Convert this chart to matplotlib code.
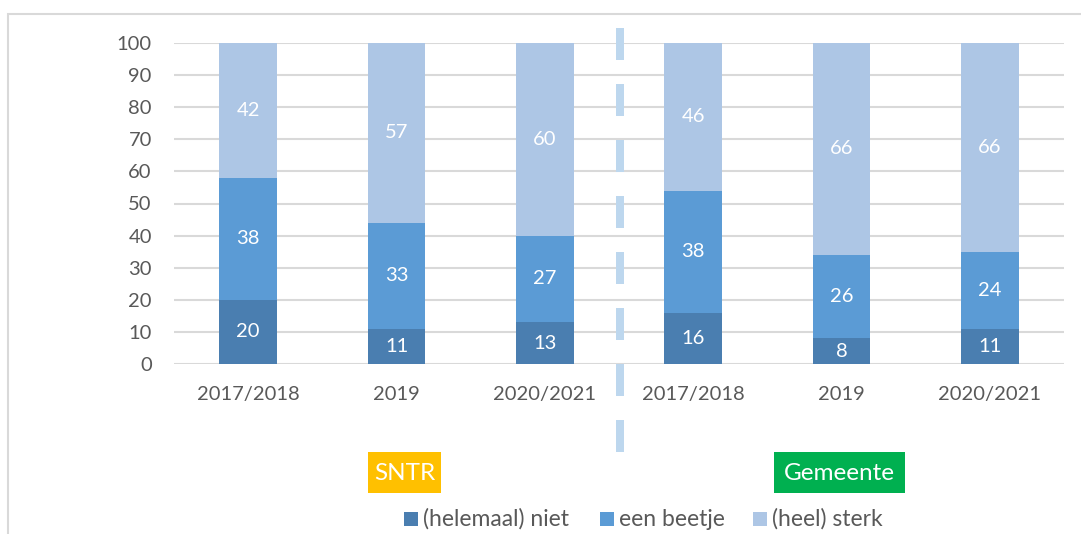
import matplotlib
matplotlib.use("Agg")
import matplotlib.pyplot as plt
from matplotlib.patches import Rectangle
from matplotlib.lines import Line2D
import numpy as np

plt.rcParams['font.family'] = ['Lato', 'DejaVu Sans']

categories = ["2017/2018", "2019", "2020/2021", "2017/2018", "2019", "2020/2021"]
niet = [20, 11, 13, 16, 8, 11]
beetje = [38, 33, 27, 38, 26, 24]
sterk = [42, 57, 60, 46, 66, 66]
series_names = ["(helemaal) niet", "een beetje", "(heel) sterk"]
colors = ["#4A7EB0", "#5B9BD5", "#ADC6E5"]
group_labels = ["SNTR", "Gemeente"]
group_colors = ["#FFC000", "#00B050"]

W, H = 1081, 534
fig = plt.figure(figsize=(W / 100, H / 100), dpi=100)
fig.patch.set_facecolor("white")

# outer chart border
fig.patches.append(Rectangle((8 / W, -0.05), 1.2, 1 - 14 / H + 0.05, transform=fig.transFigure,
                             fill=False, edgecolor="#D9D9D9", linewidth=1.5, zorder=0))

ax = fig.add_axes([174 / W, 1 - 364 / H, (1064 - 174) / W, (364 - 43) / H])
x = np.arange(len(categories))
width = 0.39
bottom = np.zeros(len(categories))
gray = "#595959"
fs = 14.5
for vals, col in zip([niet, beetje, sterk], colors):
    vals = np.array(vals, dtype=float)
    ax.bar(x, vals, width, bottom=bottom, color=col, zorder=3)
    for xi, b, v in zip(x, bottom, vals):
        top = min(b + v, 100)
        ax.text(xi, (b + top) / 2, f"{int(v)}", ha="center", va="center",
                color="white", fontsize=fs, zorder=4)
    bottom += vals

ax.set_xlim(-0.5, len(categories) - 0.5)
ax.set_ylim(0, 100)
ax.set_yticks(range(0, 101, 10))
ax.set_xticks(x)
ax.set_xticklabels(categories)
ax.tick_params(axis="both", length=0, labelsize=fs, labelcolor=gray)
ax.tick_params(axis="y", pad=16)
ax.tick_params(axis="x", pad=16)
ax.yaxis.grid(True, color="#D9D9D9", linewidth=1.5, zorder=0)
ax.set_axisbelow(True)
for s in ax.spines.values():
    s.set_visible(False)

# dashed separator
fig.add_artist(Line2D([620 / W, 620 / W], [1 - 28 / H, 1 - 452 / H], transform=fig.transFigure,
                      color="#BDD7EE", linewidth=5.76, dashes=(4, 3), solid_capstyle="butt",
                      dash_capstyle="butt"))

# group labels
for (x0, x1), lab, col in zip([(368, 441), (774, 905)], group_labels, group_colors):
    fig.patches.append(Rectangle((x0 / W, 1 - 493 / H), (x1 - x0) / W, 41 / H,
                                 transform=fig.transFigure, facecolor=col, edgecolor="none"))
    fig.text((x0 + x1) / 2 / W, 1 - 474 / H, lab, ha="center", va="center",
             color="white", fontsize=17.5)

# legend
for sx, name, col in zip([404, 600, 753], series_names, colors):
    fig.patches.append(Rectangle((sx / W, 1 - 526 / H), 14 / W, 14 / H,
                                 transform=fig.transFigure, facecolor=col, edgecolor="none"))
    fig.text((sx + 19) / W, 1 - 519 / H, name, ha="left", va="center",
             color=gray, fontsize=16.5)

fig.savefig("out.png", dpi=100)
